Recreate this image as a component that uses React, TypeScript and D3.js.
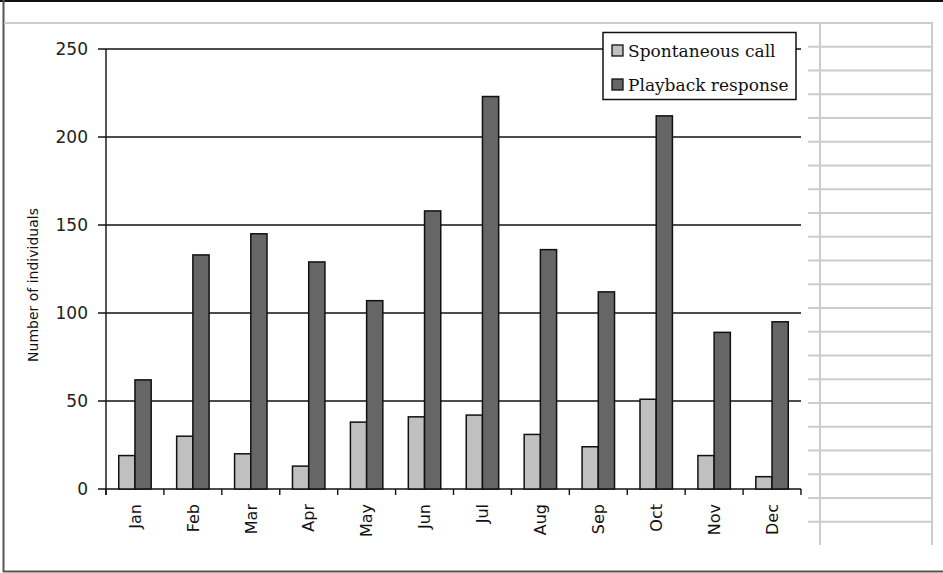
import React from "react";
import * as d3 from "d3";

const months = ["Jan", "Feb", "Mar", "Apr", "May", "Jun", "Jul", "Aug", "Sep", "Oct", "Nov", "Dec"];
const spontaneous = [19, 30, 20, 13, 38, 41, 42, 31, 24, 51, 19, 7];
const playback = [62, 133, 145, 129, 107, 158, 223, 136, 112, 212, 89, 95];
const seriesNames = ["Spontaneous call", "Playback response"];
const seriesColors = ["#c0c0c0", "#666666"];
const yTicks = [0, 50, 100, 150, 200, 250];
const yTitle = "Number of individuals";

const W = 943;
const H = 573;
const plot = { left: 106, right: 801, top: 49, bottom: 489 };

export default function App() {
  const x = d3.scaleBand<string>().domain(months).range([plot.left, plot.right]).paddingInner(0).paddingOuter(0);
  const y = d3.scaleLinear().domain([0, 250]).range([plot.bottom, plot.top]);
  const bw = x.bandwidth() * 0.28;
  const sheetRows = d3.range(1, 22).map((k) => 23 + k * 23.75);

  return (
    <svg
      width={W}
      height={H}
      style={{ position: "absolute", left: 0, top: 0, background: "#fff" }}
    >
      <rect x={0} y={0} width={W} height={H} fill="#fff" />
      {/* frame */}
      <line x1={0} x2={W} y1={1} y2={1} stroke="#111" strokeWidth={2} />
      <line x1={3.5} x2={3.5} y1={0} y2={572} stroke="#555" strokeWidth={2} />
      <line x1={3} x2={W} y1={571.5} y2={571.5} stroke="#555" strokeWidth={2} />
      <line x1={4} x2={933} y1={23} y2={23} stroke="#ccc" strokeWidth={2} />
      {/* spreadsheet grid at right */}
      <line x1={820} x2={820} y1={23} y2={545} stroke="#ccc" strokeWidth={2} />
      <line x1={932} x2={932} y1={23} y2={545} stroke="#ccc" strokeWidth={2} />
      {sheetRows.map((r, i) => (
        <line key={i} x1={808} x2={932} y1={r} y2={r} stroke="#ccc" strokeWidth={2} />
      ))}

      {/* gridlines */}
      {yTicks.map((t) => (
        <g key={t}>
          <line x1={plot.left - 8} x2={plot.right} y1={y(t)} y2={y(t)} stroke="#111" strokeWidth={1.4} />
          <text
            x={88}
            y={y(t)}
            dy="0.36em"
            textAnchor="end"
            fontFamily="DejaVu Sans"
            fontSize={17}
            fill="#222"
          >
            {t}
          </text>
        </g>
      ))}
      <line x1={plot.left} x2={plot.left} y1={plot.top} y2={plot.bottom + 6} stroke="#111" strokeWidth={1.4} />
      <line x1={plot.right} x2={plot.right} y1={plot.bottom} y2={plot.bottom + 6} stroke="#111" strokeWidth={1.4} />
      {months.map((m) => (
        <line key={m} x1={x(m)!} x2={x(m)!} y1={plot.bottom} y2={plot.bottom + 6} stroke="#111" strokeWidth={1.4} />
      ))}

      {/* bars */}
      {months.map((m, i) => {
        const cx = x(m)! + x.bandwidth() / 2;
        return (
          <g key={m}>
            <rect
              x={cx - bw}
              y={y(spontaneous[i])}
              width={bw}
              height={y(0) - y(spontaneous[i])}
              fill={seriesColors[0]}
              stroke="#111"
              strokeWidth={1.5}
            />
            <rect
              x={cx}
              y={y(playback[i])}
              width={bw}
              height={y(0) - y(playback[i])}
              fill={seriesColors[1]}
              stroke="#111"
              strokeWidth={1.5}
            />
          </g>
        );
      })}

      {/* month labels */}
      {months.map((m) => {
        const cx = x(m)! + x.bandwidth() / 2;
        return (
          <text
            key={m}
            transform={`translate(${cx},${504}) rotate(-90)`}
            dy="0.36em"
            textAnchor="end"
            fontFamily="DejaVu Sans"
            fontSize={16}
            fill="#111"
          >
            {m}
          </text>
        );
      })}

      {/* y title */}
      <text
        transform={`translate(33,285) rotate(-90)`}
        dy="0.36em"
        textAnchor="middle"
        fontFamily="DejaVu Sans"
        fontSize={14}
        fill="#111"
      >
        {yTitle}
      </text>

      {/* legend */}
      <rect x={603} y={32.5} width={193} height={67} fill="#fff" stroke="#111" strokeWidth={1.5} />
      {seriesNames.map((s, i) => (
        <g key={s}>
          <rect
            x={612}
            y={45 + i * 34}
            width={11}
            height={11}
            fill={seriesColors[i]}
            stroke="#111"
            strokeWidth={1.3}
          />
          <text x={628} y={56.5 + i * 34} fontFamily="DejaVu Serif" fontSize={17} fill="#111">
            {s}
          </text>
        </g>
      ))}
    </svg>
  );
}
